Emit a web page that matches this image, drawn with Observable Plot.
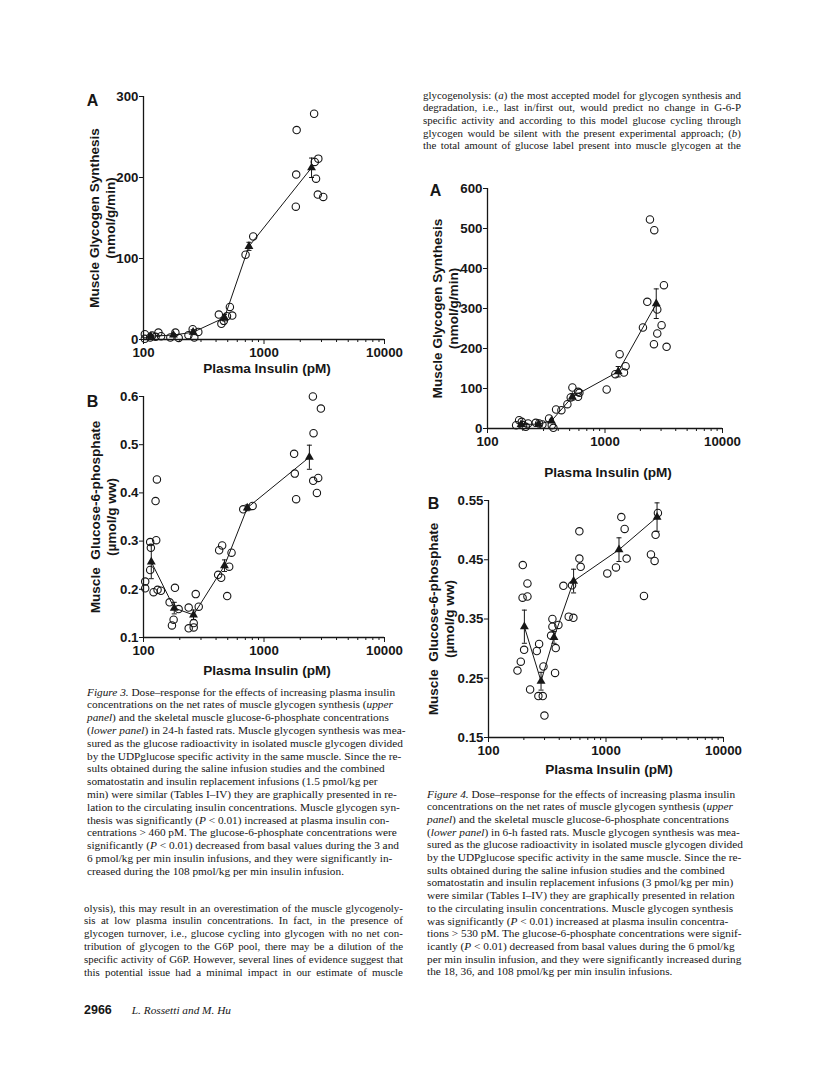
<!DOCTYPE html>
<html><head><meta charset="utf-8">
<script src="https://cdn.jsdelivr.net/npm/d3@7"></script>
<script src="https://cdn.jsdelivr.net/npm/@observablehq/plot@0.6"></script>
<style>
html,body{margin:0;padding:0;background:#fff;}
#page{position:relative;width:816px;height:1072px;overflow:hidden;background:#fff;color:#161616;}
.txt{position:absolute;font-family:"Liberation Serif","Times New Roman",serif;white-space:nowrap;}
.txt > div{white-space:nowrap;}
</style></head><body><div id="page"></div>
<script>
// ---------------- DATA ----------------
const xTitle = "Plasma Insulin (pM)";
const xMajorTicks = [100, 1000, 10000];
const xMinorTicks = [200,300,400,500,600,700,800,900,2000,3000,4000,5000,6000,7000,8000,9000];

// Figure 3A – muscle glycogen synthesis, 24-h fasted
const f3aX = [102.6,102.6,113.6,118,126,133,140,167,184,196,236,256,264,285,422,443,464,493,521,545,703,814,1837,1850,1866,2606,2637,2703,2824,2796,3103];
const f3aY = [6.6,0.8,2.5,4.9,3.3,8.6,4.1,2.5,8.6,2,5.3,12.7,2.5,9.4,30.8,19.3,23,28.7,40.2,29.5,104.7,127.2,164,203.6,258.6,278.7,219.2,198.6,223.3,178.9,176];
const f3aMeanX = [115,177,258,470,750,2480];
const f3aMeanY = [4,5.5,9,27,115,212];
const f3aMeanE = [2,2,3,4,5,12];
const f3aYTicks = [0,100,200,300];

// Figure 3B – glucose-6-phosphate, 24-h fasted
const f3bX = [103.3,103.3,113.6,115.1,113.6,121.2,125.9,127.5,129.2,130.8,139.5,164.7,172.2,177.8,182.4,195.7,237.1,237.1,261,261,271.3,287.3,416.4,424.5,449.6,441,494.9,514.2,537.8,672.6,804.6,1778,1801,1848,2545,2577,2561,2818,2748,2966];
const f3bY = [0.216,0.202,0.298,0.286,0.240,0.194,0.383,0.302,0.428,0.199,0.197,0.173,0.125,0.137,0.203,0.159,0.119,0.162,0.130,0.121,0.190,0.164,0.230,0.281,0.291,0.224,0.186,0.247,0.276,0.366,0.373,0.481,0.440,0.387,0.600,0.524,0.425,0.431,0.400,0.575];
const f3bMeanX = [116,180,260,470,726,2380];
const f3bMeanY = [0.257,0.161,0.147,0.249,0.369,0.474];
const f3bMeanE = [0.035,0.012,0.010,0.012,0.006,0.025];
const f3bYTicks = [0.1,0.2,0.3,0.4,0.5,0.6];

// Figure 4A – muscle glycogen synthesis, 6-h fasted
const f4aX = [175.2,185.8,195.8,200.9,211.8,221.6,257.5,274.9,293.4,334.2,352.2,363.8,383.4,425.6,478.6,510.8,527.8,589.6,589.6,605.3,1033,1224,1332,1450,1498,2103,2290,2413,2626,2609,2785,2785,3031,3173,3343];
const f4aY = [8.3,20.8,16.7,8.3,4.2,12.5,14.2,12.5,10,25,8.3,1.7,47.5,45.8,60.8,77.5,102.5,91.7,79.2,89.2,97.5,135.8,185.8,140,155.8,252.5,316.7,522.5,495.8,210.8,297.5,237.5,258.3,358.3,204.2];
const f4aMeanX = [193,272,350,527,1295,2730];
const f4aMeanY = [10,11,19,79,142,312];
const f4aMeanE = [3,3,4,8,13,37];
const f4aYTicks = [0,100,200,300,400,500,600];

// Figure 4B – glucose-6-phosphate, 6-h fasted
const f4bX = [176.4,188.3,195.8,195,201,214.5,214.5,226,257.7,269.6,265.8,289.6,293.5,299.3,340.9,349.9,349.9,368.6,373.4,393.5,433.9,481.6,527.8,514,593.4,593.4,609,1026,1216,1350,1441,1498,2104,2413,2592,2642,2766];
const f4bY = [0.263,0.278,0.441,0.386,0.298,0.410,0.388,0.231,0.296,0.308,0.220,0.220,0.270,0.187,0.322,0.350,0.337,0.259,0.301,0.340,0.406,0.354,0.352,0.407,0.498,0.452,0.438,0.427,0.437,0.522,0.502,0.452,0.389,0.459,0.448,0.492,0.529];
const f4bMeanX = [202,280,361,530,1290,2720];
const f4bMeanY = [0.337,0.245,0.319,0.414,0.467,0.522];
const f4bMeanE = [0.028,0.015,0.010,0.020,0.020,0.024];
const f4bYTicks = [0.15,0.25,0.35,0.45,0.55];

const glycTitle = "Muscle Glycogen Synthesis\n(nmol/g/min)";
const g6pTitle = "Muscle  Glucose-6-phosphate\n(\u00b5mol/g ww)";

// ---------------- TEXT ----------------
const rightTopLines = [
  "glycogenolysis: (<i>a</i>) the most accepted model for glycogen synthesis and",
  "degradation, i.e., last in/first out, would predict no change in G-6-P",
  "specific activity and according to this model glucose cycling through",
  "glycogen would be silent with the present experimental approach; (<i>b</i>)",
  "the total amount of glucose label present into muscle glycogen at the"
];
const fig3Caption = [
  "<i>Figure 3.</i> Dose\u2013response for the effects of increasing plasma insulin",
  "concentrations on the net rates of muscle glycogen synthesis (<i>upper</i>",
  "<i>panel</i>) and the skeletal muscle glucose-6-phosphate concentrations",
  "(<i>lower panel</i>) in 24-h fasted rats. Muscle glycogen synthesis was mea-",
  "sured as the glucose radioactivity in isolated muscle glycogen divided",
  "by the UDPglucose specific activity in the same muscle. Since the re-",
  "sults obtained during the saline infusion studies and the combined",
  "somatostatin and insulin replacement infusions (1.5 pmol/kg per",
  "min) were similar (Tables I\u2013IV) they are graphically presented in re-",
  "lation to the circulating insulin concentrations. Muscle glycogen syn-",
  "thesis was significantly (<i>P</i> &lt; 0.01) increased at plasma insulin con-",
  "centrations &gt; 460 pM. The glucose-6-phosphate concentrations were",
  "significantly (<i>P</i> &lt; 0.01) decreased from basal values during the 3 and",
  "6 pmol/kg per min insulin infusions, and they were significantly in-",
  "creased during the 108 pmol/kg per min insulin infusion."
];
const leftBodyLines = [
  "olysis), this may result in an overestimation of the muscle glycogenoly-",
  "sis at low plasma insulin concentrations. In fact, in the presence of",
  "glycogen turnover, i.e., glucose cycling into glycogen with no net con-",
  "tribution of glycogen to the G6P pool, there may be a dilution of the",
  "specific activity of G6P. However, several lines of evidence suggest that",
  "this potential issue had a minimal impact in our estimate of muscle"
];
const fig4Caption = [
  "<i>Figure 4.</i> Dose\u2013response for the effects of increasing plasma insulin",
  "concentrations on the net rates of muscle glycogen synthesis (<i>upper</i>",
  "<i>panel</i>) and the skeletal muscle glucose-6-phosphate concentrations",
  "(<i>lower panel</i>) in 6-h fasted rats. Muscle glycogen synthesis was mea-",
  "sured as the glucose radioactivity in isolated muscle glycogen divided",
  "by the UDPglucose specific activity in the same muscle. Since the re-",
  "sults obtained during the saline infusion studies and the combined",
  "somatostatin and insulin replacement infusions (3 pmol/kg per min)",
  "were similar (Tables I\u2013IV) they are graphically presented in relation",
  "to the circulating insulin concentrations. Muscle glycogen synthesis",
  "was significantly (<i>P</i> &lt; 0.01) increased at plasma insulin concentra-",
  "tions &gt; 530 pM. The glucose-6-phosphate concentrations were signif-",
  "icantly (<i>P</i> &lt; 0.01) decreased from basal values during the 6 pmol/kg",
  "per min insulin infusion, and they were significantly increased during",
  "the 18, 36, and 108 pmol/kg per min insulin infusions."
];
const pageNumber = "2966";
const authors = "L. Rossetti and M. Hu";

// ---------------- RENDER ----------------
const page = document.getElementById("page");
const ink = "#161616";
const capSymbol = {draw(ctx, size){ const w = Math.sqrt(size/Math.PI); ctx.moveTo(-w,0); ctx.lineTo(w,0); }};

function panel(o){
  const W = o.ml + o.fw + o.mr, H = o.mt + o.fh + o.mb;
  const pts = o.px.map((x,i)=>({x, y:o.py[i]}));
  const means = o.mx.map((x,i)=>({x, y:o.my[i], e:o.me[i]}));
  const svg = Plot.plot({
    width: W, height: H,
    marginLeft: o.ml, marginRight: o.mr, marginTop: o.mt, marginBottom: o.mb,
    style: {fontFamily: '"Liberation Sans", Arial, sans-serif', fontSize: "13.3px", fontWeight: "bold", color: ink, background: "transparent", overflow: "visible"},
    x: {type: "log", domain: [100, 10000]},
    y: {type: "linear", domain: o.yDomain},
    marks: [
      Plot.ruleY([o.yDomain[0]], {stroke: ink, strokeWidth: 1.3}),
      Plot.ruleX([100], {stroke: ink, strokeWidth: 1.3}),
      Plot.axisX({ticks: xMinorTicks, tickSize: 3, tickFormat: () => "", label: null}),
      Plot.axisX({ticks: xMajorTicks, tickSize: 5, tickPadding: 3, tickFormat: d => String(d), label: null}),
      Plot.axisY({ticks: o.yTicks, tickSize: 4, tickPadding: 1, tickFormat: o.yFormat, label: null}),
      Plot.text([xTitle], {frameAnchor: "bottom", dy: o.xtDy, dx: 3, fontSize: 13.6, textAnchor: "middle", lineAnchor: "middle", fill: ink}),
      Plot.text([o.ytitle], {frameAnchor: "left", dx: o.ytDx, rotate: -90, fontSize: 13.6, lineHeight: 1.18, textAnchor: "middle", lineAnchor: "middle", fill: ink}),
      Plot.text([o.letter], {frameAnchor: "top-left", dx: o.ltDx, dy: o.ltDy, fontSize: 16, textAnchor: "middle", lineAnchor: "middle", fill: ink}),
      Plot.line(means, {x: "x", y: "y", stroke: ink, strokeWidth: 1}),
      Plot.ruleX(means, {x: "x", y1: d => d.y - d.e, y2: d => d.y + d.e, stroke: ink, strokeWidth: 1}),
      Plot.dot(means, {x: "x", y: d => d.y + d.e, symbol: capSymbol, r: 2.5, stroke: ink, strokeWidth: 1}),
      Plot.dot(means, {x: "x", y: d => d.y - d.e, symbol: capSymbol, r: 2.5, stroke: ink, strokeWidth: 1}),
      Plot.dot(pts, {x: "x", y: "y", r: 3.7, stroke: ink, fill: "none", strokeWidth: 1.1}),
      Plot.dot(means, {x: "x", y: "y", symbol: "triangle", r: 3.3, fill: ink, stroke: "none"})
    ]
  });
  svg.style.position = "absolute";
  svg.style.left = o.left + "px";
  svg.style.top = o.top + "px";
  page.appendChild(svg);
}

panel({left: 80, top: 80, ml: 63, mt: 16, fw: 241, fh: 243, mr: 24, mb: 42,
  px: f3aX, py: f3aY, mx: f3aMeanX, my: f3aMeanY, me: f3aMeanE,
  yDomain: [0, 300], yTicks: f3aYTicks, yFormat: d3.format("d"),
  ytitle: glycTitle, letter: "A", xtDy: 29, ytDx: -42, ltDx: -51, ltDy: 4});
panel({left: 80, top: 380, ml: 63, mt: 16, fw: 241, fh: 241, mr: 24, mb: 42,
  px: f3bX, py: f3bY, mx: f3bMeanX, my: f3bMeanY, me: f3bMeanE,
  yDomain: [0.1, 0.6], yTicks: f3bYTicks, yFormat: d3.format(".1f"),
  ytitle: g6pTitle, letter: "B", xtDy: 33, ytDx: -41, ltDx: -51, ltDy: 5});
panel({left: 420, top: 172, ml: 67, mt: 16, fw: 235, fh: 240, mr: 24, mb: 52,
  px: f4aX, py: f4aY, mx: f4aMeanX, my: f4aMeanY, me: f4aMeanE,
  yDomain: [0, 600], yTicks: f4aYTicks, yFormat: d3.format("d"),
  ytitle: glycTitle, letter: "A", xtDy: 44, ytDx: -43, ltDx: -52, ltDy: 2});
panel({left: 420, top: 484, ml: 68, mt: 16, fw: 235, fh: 237, mr: 24, mb: 42,
  px: f4bX, py: f4bY, mx: f4bMeanX, my: f4bMeanY, me: f4bMeanE,
  yDomain: [0.15, 0.55], yTicks: f4bYTicks, yFormat: d3.format(".2f"),
  ytitle: g6pTitle, letter: "B", xtDy: 32, ytDx: -48, ltDx: -55, ltDy: 3});

function block(lines, o){
  const div = document.createElement("div");
  div.className = "txt";
  div.style.left = o.left + "px";
  div.style.top = (o.firstCenter - o.lh / 2) + "px";
  div.style.width = o.width + "px";
  div.style.fontSize = o.fs + "px";
  lines.forEach((ln) => {
    const l = document.createElement("div");
    l.style.height = o.lh + "px";
    l.style.lineHeight = o.lh + "px";
    if (o.justify) {
      l.style.display = "flex";
      l.style.justifyContent = "space-between";
      ln.split(" ").forEach(w => { const s = document.createElement("span"); s.innerHTML = w; l.appendChild(s); });
    } else {
      l.innerHTML = ln;
    }
    div.appendChild(l);
  });
  page.appendChild(div);
}

block(rightTopLines, {left: 423, firstCenter: 95, width: 318, lh: 12.7, fs: 10.9, justify: true});
block(fig3Caption, {left: 87, firstCenter: 692, width: 320, lh: 12.8, fs: 11.3, justify: false});
block(leftBodyLines, {left: 84, firstCenter: 908, width: 319, lh: 12.8, fs: 10.9, justify: true});
block(fig4Caption, {left: 427, firstCenter: 794, width: 320, lh: 12.7, fs: 11.3, justify: false});

const foot = document.createElement("div");
foot.className = "txt";
foot.style.left = "84px"; foot.style.top = "1001px"; foot.style.lineHeight = "16px";
foot.innerHTML = '<span style="font-family:\'Liberation Sans\',Arial,sans-serif;font-weight:bold;font-size:12.5px">' + pageNumber + '</span>' +
  '<span style="display:inline-block;width:20px"></span><span style="font-style:italic;font-size:11.3px">' + authors + '</span>';
page.appendChild(foot);
</script></body></html>
